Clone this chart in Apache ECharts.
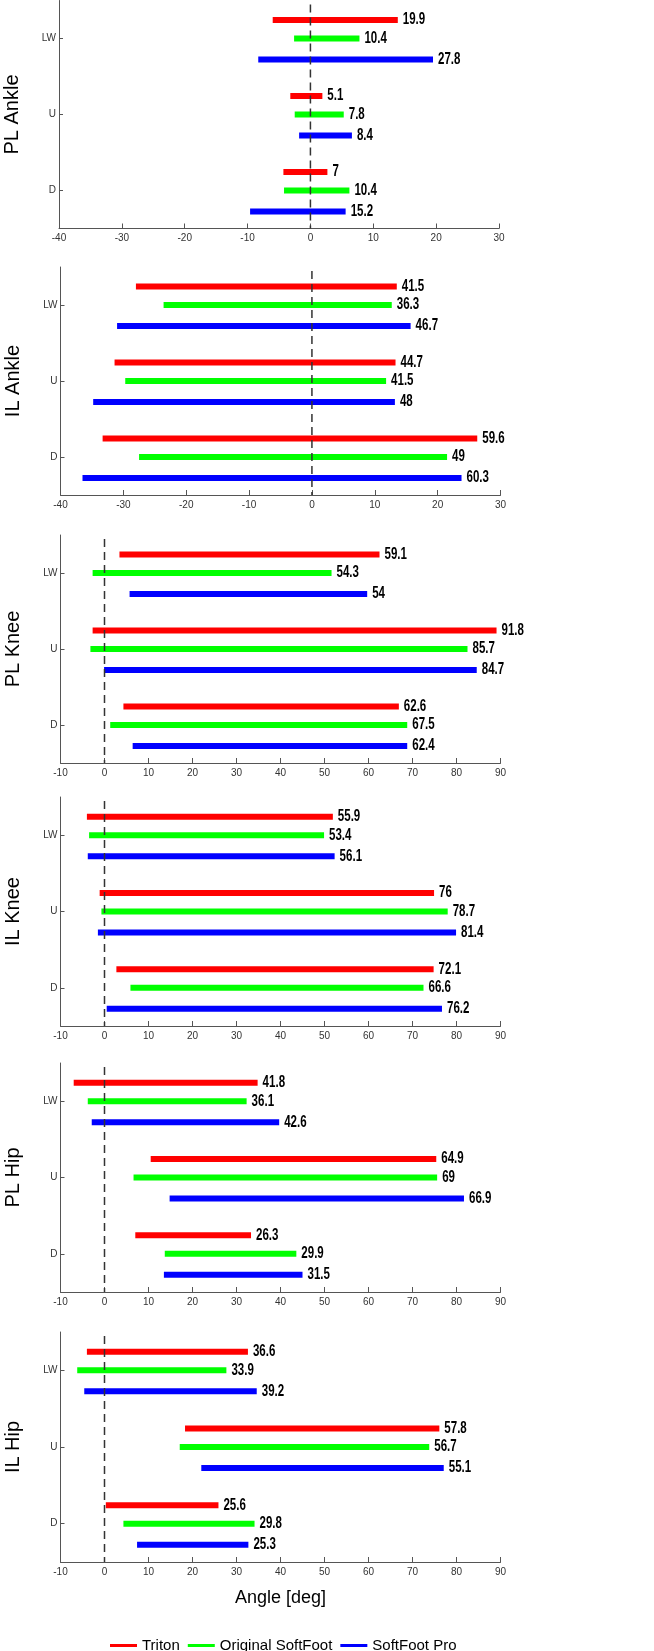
<!DOCTYPE html>
<html>
<head>
<meta charset="utf-8">
<script src="https://cdn.jsdelivr.net/npm/echarts@6/dist/echarts.min.js"></script>
<style>
html,body{margin:0;padding:0;background:#fff;}
#main{width:654px;height:1651px;}
</style>
</head>
<body>
<div id="main"></div>
<script>
var cats = ['LW', 'U', 'D'];
var panels = ['PL Ankle', 'IL Ankle', 'PL Knee', 'IL Knee', 'PL Hip', 'IL Hip'];
var seriesNames = ['Triton', 'Original SoftFoot', 'SoftFoot Pro'];
var xMin = [-40, -40, -10, -10, -10, -10];
var xMax = [30, 30, 90, 90, 90, 90];

// lower end of each range, per panel, [LW, U, D]
var tritonLo = [[-6.0, -3.2, -4.3], [-28.0, -31.4, -33.3], [3.4, -2.7, 4.3], [-4.0, -1.1, 2.7], [-7.0, 10.5, 7.0], [-4.0, 18.3, 0.3]];
var origLo = [[-2.6, -2.5, -4.2], [-23.6, -29.7, -27.5], [-2.7, -3.2, 1.3], [-3.5, -0.7, 5.9], [-3.8, 6.6, 13.7], [-6.2, 17.1, 4.3]];
var proLo = [[-8.3, -1.8, -9.6], [-31.0, -34.8, -36.5], [5.7, -0.1, 6.4], [-3.8, -1.5, 0.5], [-2.9, 14.8, 13.5], [-4.6, 22.0, 7.4]];
// range of motion (printed values)
var tritonSpan = [[19.9, 5.1, 7], [41.5, 44.7, 59.6], [59.1, 91.8, 62.6], [55.9, 76, 72.1], [41.8, 64.9, 26.3], [36.6, 57.8, 25.6]];
var origSpan = [[10.4, 7.8, 10.4], [36.3, 41.5, 49], [54.3, 85.7, 67.5], [53.4, 78.7, 66.6], [36.1, 69, 29.9], [33.9, 56.7, 29.8]];
var proSpan = [[27.8, 8.4, 15.2], [46.7, 48, 60.3], [54, 84.7, 62.4], [56.1, 81.4, 76.2], [42.6, 66.9, 31.5], [39.2, 55.1, 25.3]];

(function(){
    var myChart = echarts.init(document.getElementById('main'));
    var colors = ['#ff0000', '#00ff00', '#0000ff'];
    var offsets = [-18.5, 0, 21];
    var los = [tritonLo, origLo, proLo];
    var spans = [tritonSpan, origSpan, proSpan];
    var tops = [0.5, 267, 535, 797, 1063, 1332];
    var heights = [228, 228, 228, 229, 229, 230];
    var axisColor = '#555';

    var grid = [], xAxis = [], yAxis = [], series = [];

    function barItem(offset, color) {
        return function (params, api) {
            var lo = api.value(0), hi = api.value(1), cat = api.value(2);
            var a = api.coord([lo, cat]);
            var b = api.coord([hi, cat]);
            var y = a[1] + offset;
            return {
                type: 'group',
                children: [
                    { type: 'rect', shape: { x: a[0], y: y - 3, width: b[0] - a[0], height: 6 }, style: { fill: color } },
                    {
                        type: 'text', x: b[0] + 5, y: y, scaleX: 0.72,
                        style: { text: String(api.value(3)), fill: '#000', font: 'bold 16px Arial, sans-serif', verticalAlign: 'middle' }
                    }
                ]
            };
        };
    }

    panels.forEach(function (name, i) {
        grid.push({ left: i === 0 ? 59 : 60.5, width: 440, top: tops[i], height: heights[i], outerBoundsMode: 'none' });
        xAxis.push({
            type: 'value', gridIndex: i, min: xMin[i], max: xMax[i], interval: 10,
            name: i === 5 ? 'Angle [deg]' : '',
            nameLocation: 'middle', nameGap: 27,
            nameTextStyle: { fontSize: 18, color: '#000', fontFamily: 'Arial' },
            axisLine: { show: true, onZero: false, lineStyle: { color: axisColor, width: 1 } },
            axisTick: { show: true, inside: true, length: 5, lineStyle: { color: axisColor } },
            axisLabel: { fontSize: 10, color: '#333', margin: 5, fontFamily: 'Arial' },
            splitLine: { show: false }
        });
        yAxis.push({
            type: 'category', gridIndex: i, data: cats, inverse: true,
            name: name, nameLocation: 'middle', nameRotate: 90, nameGap: 37,
            nameTextStyle: { fontSize: 20, color: '#000', fontFamily: 'Arial' },
            axisLine: { show: true, onZero: false, lineStyle: { color: axisColor, width: 1 } },
            axisTick: { show: true, inside: true, length: 4, alignWithLabel: true, lineStyle: { color: axisColor } },
            axisLabel: { fontSize: 10, color: '#333', margin: 3, fontFamily: 'Arial' },
            splitLine: { show: false }
        });
        seriesNames.forEach(function (sName, k) {
            var data = [];
            for (var c = 0; c < cats.length; c++) {
                var lo = los[k][i][c];
                var sp = spans[k][i][c];
                data.push([lo, lo + sp, c, sp]);
            }
            series.push({
                name: sName,
                type: 'custom',
                xAxisIndex: i,
                yAxisIndex: i,
                itemStyle: { color: colors[k] },
                encode: { x: [0, 1], y: 2 },
                renderItem: barItem(offsets[k], colors[k]),
                data: data,
                z: 2
            });
        });
        // dashed zero line
        series.push({
            type: 'custom',
            xAxisIndex: i,
            yAxisIndex: i,
            silent: true,
            encode: { x: 0, y: 1 },
            data: [[0, 0]],
            z: 5,
            renderItem: function (params, api) {
                var x = api.coord([0, 0])[0];
                var cs = params.coordSys;
                return {
                    type: 'line',
                    shape: { x1: x, y1: cs.y + 4, x2: x, y2: cs.y + cs.height },
                    style: { stroke: '#333', lineWidth: 1.5, lineDash: [8, 5] }
                };
            }
        });
    });

    var option = {
        animation: false,
        legend: {
            data: seriesNames,
            left: 105,
            top: 1633,
            icon: 'rect',
            itemWidth: 27,
            itemHeight: 3,
            itemGap: 8,
            textStyle: { fontSize: 15, color: '#000', fontFamily: 'Arial' }
        },
        grid: grid,
        xAxis: xAxis,
        yAxis: yAxis,
        series: series
    };
    myChart.setOption(option);
    window.addEventListener('resize', function () {
        myChart.resize();
    });
})();
</script>
</body>
</html>
